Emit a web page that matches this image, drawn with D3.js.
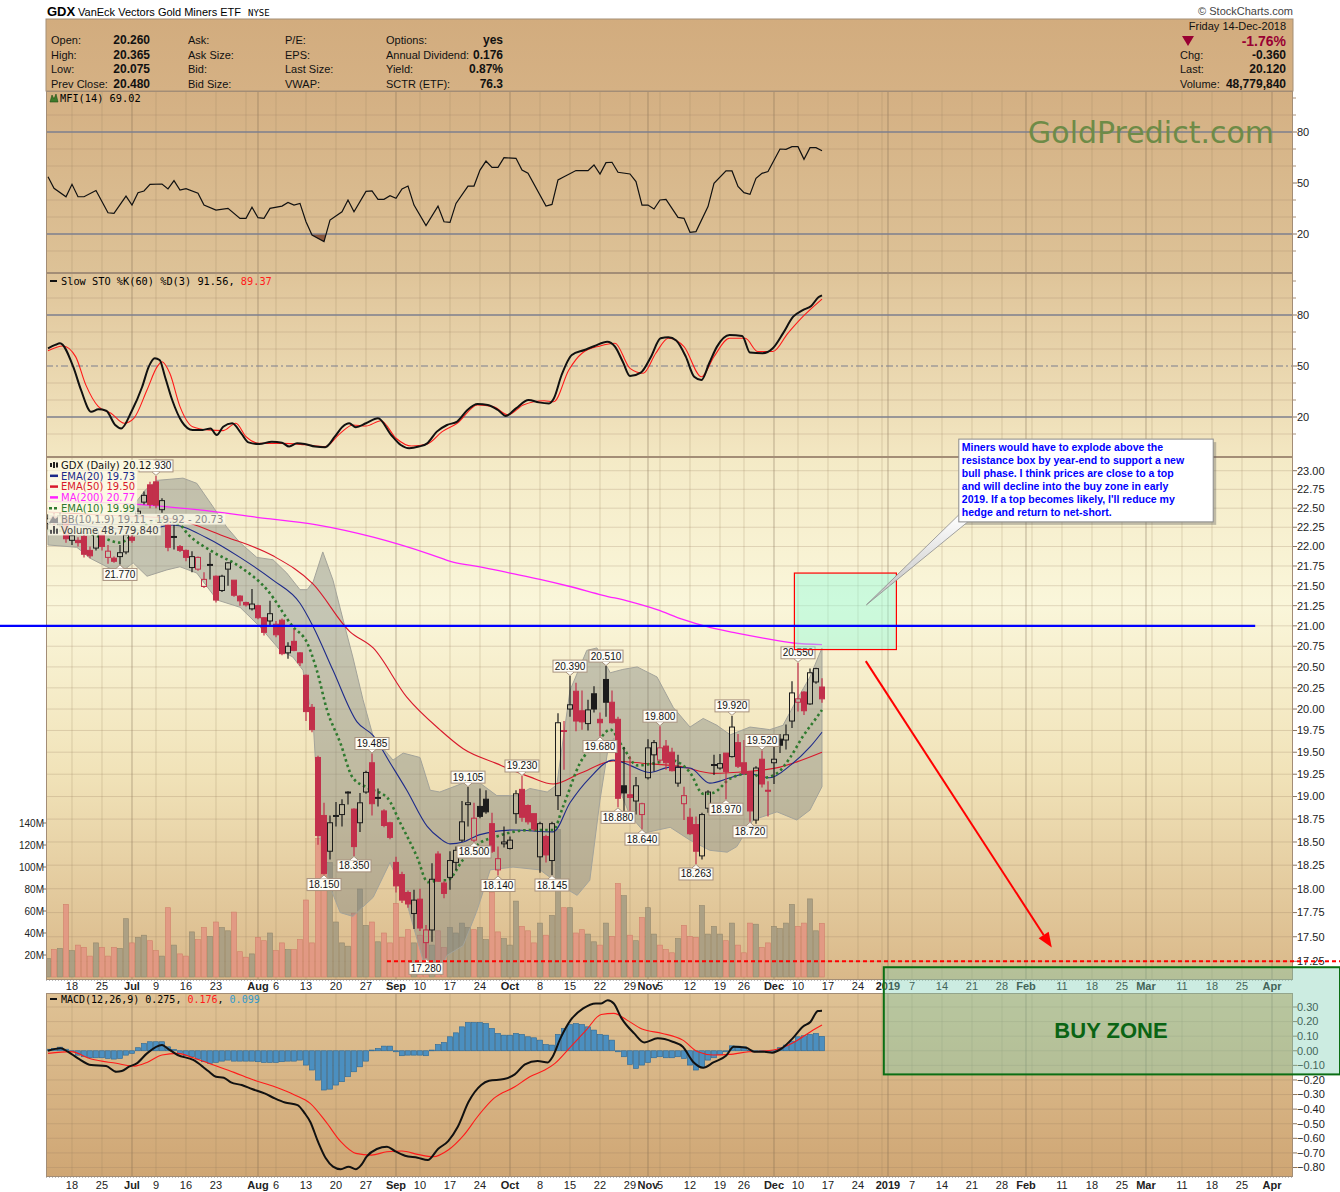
<!DOCTYPE html>
<html>
<head>
<meta charset="utf-8">
<script src="https://d3js.org/d3.v7.min.js"></script>
<style>
body { margin:0; background:#fff; }
svg { display:block; font-family:"Liberation Sans", Arial, sans-serif; }
</style>
</head>
<body>
<script>
// ---- values: day index 0 = Mon 18-Jun-2018, first bar is index -4 ----
var firstDay = -4;
var opens = [22.30,22.38,22.28,22.38,22.08,22.08,22.13,21.95,21.98,22.15,21.86,21.85,21.87,21.93,
  22.12,22.42,22.58,22.81,22.85,22.48,22.28,22.12,22.00,21.95,
  21.73,21.71,21.49,21.76,21.62,21.44,21.71,21.57,21.37,21.29,
  21.21,21.25,21.10,21.06,21.02,21.07,20.67,20.81,20.67,20.40,
  20.02,19.44,18.79,18.40,18.78,18.80,19.04,18.86,18.71,19.05,
  19.38,18.98,18.84,18.71,18.28,18.15,17.96,17.74,17.89,17.44,
  17.57,18.37,18.06,18.12,18.28,18.52,18.91,18.52,18.89,18.97,
  18.70,18.20,18.48,18.43,18.81,19.08,18.90,18.81,18.34,18.56,
  18.30,19.01,19.75,20.00,20.21,19.98,19.83,20.18,19.88,20.35,
  20.08,19.88,19.12,19.02,18.95,18.80,19.21,19.47,19.41,19.57,
  19.50,19.15,18.92,18.77,18.69,18.35,18.87,19.35,19.32,19.49,
  19.45,19.61,19.38,19.28,18.74,19.42,19.07,19.38,19.65,19.64,
  19.86,20.08,20.20,20.06,20.32,20.26];
var highs = [22.42,22.45,22.45,22.40,22.20,22.12,22.17,22.00,22.25,22.20,22.02,21.87,22.02,22.20,
  22.15,22.50,22.72,22.85,22.93,22.63,22.35,22.28,22.02,21.96,
  21.94,21.87,21.67,21.92,21.63,21.64,21.80,21.57,21.38,21.30,
  21.46,21.26,21.11,21.31,21.06,21.09,20.80,20.96,20.68,20.41,
  20.06,19.46,18.93,18.79,18.94,18.97,19.06,18.87,19.04,19.29,
  19.485,19.09,18.86,18.72,18.34,18.18,17.98,17.99,18.00,17.62,
  18.27,18.40,18.08,18.40,18.45,18.95,19.105,18.93,19.09,19.07,
  18.82,18.45,18.67,18.56,19.07,19.23,18.91,18.81,18.72,18.58,
  18.72,19.95,19.86,20.39,20.31,20.22,20.11,20.27,19.96,20.51,
  20.22,19.91,19.56,19.45,19.22,18.93,19.65,19.64,19.80,19.64,
  19.55,19.47,19.11,18.87,18.78,18.82,19.07,19.47,19.48,19.49,
  19.92,19.71,19.64,19.28,19.34,19.52,19.17,19.58,19.71,19.82,
  20.33,20.55,20.21,20.48,20.49,20.365];
var lows = [22.22,22.28,22.25,22.05,22.02,22.00,21.86,21.85,21.95,21.95,21.78,21.79,21.77,21.90,
  22.05,22.35,22.55,22.50,22.50,22.44,21.94,21.96,21.93,21.81,
  21.67,21.69,21.47,21.58,21.29,21.42,21.50,21.36,21.25,21.24,
  21.19,21.08,20.88,21.00,20.86,20.64,20.60,20.69,20.51,19.86,
  19.73,18.47,18.15,18.31,18.67,18.67,18.91,18.35,18.61,19.03,
  18.79,18.89,18.66,18.53,17.96,17.85,17.80,17.58,17.56,17.28,
  17.45,18.07,17.90,17.99,18.20,18.50,18.67,18.50,18.76,18.81,
  18.38,18.14,18.44,18.42,18.70,18.72,18.69,18.62,18.17,18.28,
  18.145,18.85,19.30,19.91,19.74,19.76,19.75,19.96,19.68,19.91,
  19.83,18.88,18.82,18.80,18.80,18.64,19.19,19.28,19.38,19.30,
  19.28,19.11,18.74,18.58,18.263,18.31,18.82,19.24,19.30,18.97,
  19.44,19.32,19.24,18.72,18.70,19.10,18.78,19.14,19.49,19.53,
  19.78,19.97,19.93,20.05,20.30,20.075];
var closes = [22.36,22.33,22.40,22.10,22.14,22.05,21.90,21.88,22.19,22.00,21.94,21.81,21.92,22.15,
  22.08,22.46,22.67,22.55,22.54,22.60,21.99,22.13,21.95,21.86,
  21.87,21.86,21.58,21.77,21.32,21.62,21.79,21.38,21.31,21.26,
  21.27,21.10,20.92,21.15,20.89,20.66,20.75,20.70,20.55,19.97,
  19.76,18.57,18.16,18.71,18.79,18.91,19.05,18.45,18.93,19.27,
  18.92,18.99,18.68,18.55,18.03,17.88,17.84,17.88,17.59,17.57,
  18.10,18.08,17.95,18.30,18.41,18.72,18.93,18.76,18.78,18.83,
  18.40,18.32,18.50,18.52,19.03,18.77,18.72,18.64,18.70,18.36,
  18.70,19.84,19.74,20.05,19.86,19.85,19.99,20.00,19.84,20.08,
  19.84,18.98,19.04,18.99,19.12,18.92,19.55,19.61,19.55,19.38,
  19.29,19.33,19.01,18.59,18.40,18.80,19.05,19.36,19.37,19.28,
  19.79,19.34,19.26,18.84,19.32,19.14,19.06,19.42,19.58,19.70,
  20.19,20.12,19.98,20.43,20.48,20.12];
var volumes = [17,25,26,66,24,29,27,19,31,27,19,27,26,53,
  31,36,38,33,24,19,63,29,21,19,
  41,34,45,37,50,45,42,59,23,18,
  21,36,33,40,24,31,25,25,34,70,
  31,126,93,104,50,31,28,58,80,47,
  50,32,40,31,67,36,43,31,38,31,
  29,42,27,45,40,49,45,43,45,34,
  77,41,35,29,69,46,42,31,49,38,
  56,134,63,63,40,43,39,32,29,49,
  37,85,74,38,33,54,63,39,29,25,
  22,35,47,37,36,65,39,46,39,33,
  49,29,22,49,48,27,31,46,44,49,
  66,46,49,71,42,48.78];
var macdHist = [0.011,0.016,0.025,0.011,-0.007,-0.030,-0.041,-0.048,-0.048,-0.048,-0.053,-0.057,-0.053,-0.030,
  -0.018,0.021,0.050,0.062,0.062,0.062,0.027,0.009,-0.018,-0.034,
  -0.041,-0.057,-0.075,-0.087,-0.080,-0.071,-0.064,-0.071,-0.071,-0.071,
  -0.071,-0.075,-0.080,-0.080,-0.080,-0.075,-0.071,-0.071,-0.064,-0.098,
  -0.132,-0.201,-0.269,-0.263,-0.235,-0.212,-0.178,-0.144,-0.110,-0.071,
  0.005,0.016,0.032,0.032,-0.007,-0.034,-0.030,-0.030,-0.030,-0.034,
  0.005,0.043,0.057,0.096,0.123,0.164,0.194,0.194,0.194,0.187,
  0.153,0.119,0.107,0.107,0.119,0.112,0.096,0.089,0.073,0.043,
  0.039,0.112,0.153,0.180,0.187,0.180,0.164,0.142,0.112,0.107,
  0.073,-0.007,-0.041,-0.094,-0.121,-0.098,-0.080,-0.048,-0.041,-0.048,
  -0.048,-0.041,-0.053,-0.098,-0.132,-0.116,-0.064,-0.048,-0.025,-0.007,
  0.034,0.032,0.027,0.005,-0.007,-0.007,-0.011,0.002,0.021,0.039,
  0.066,0.096,0.103,0.112,0.119,0.099];

// indicator lines, [day index, value]
var mfi = [[-4,53.7],[-3,46.9],[-1,41.9],[0,49.2],[1,41.9],[2,41.9],[4,45.6],[6,32.5],[7,32.2],[9,42.3],[10,37.0],[11,44.3],[12,45.3],[13,49.2],[15,49.4],[16,46.5],[17,51.4],[18,45.9],[19,46.7],[21,44.0],[22,37.0],[24,34.1],[26,35.1],[28,29.2],[29,29.2],[30,35.7],[31,29.6],[32,29.2],[33,35.1],[35,36.4],[36,38.6],[37,37.0],[38,38.0],[39,27.2],[40,19.4],[42,15.5],[43,28.2],[45,33.1],[46,40.0],[47,33.1],[49,45.1],[50,45.3],[51,40.4],[52,40.4],[53,42.5],[54,41.0],[55,46.5],[56,48.2],[57,37.0],[59,24.9],[61,36.4],[62,27.2],[63,26.8],[64,38.0],[66,48.2],[67,48.2],[68,57.6],[69,62.9],[70,59.2],[71,59.2],[72,64.9],[74,64.5],[75,57.6],[76,55.7],[79,36.4],[80,37.4],[81,51.8],[82,53.7],[84,57.3],[86,57.3],[87,60.6],[88,55.3],[89,62.0],[90,62.2],[91,56.3],[93,55.3],[94,50.8],[95,37.0],[96,37.0],[97,34.7],[98,40.0],[99,40.4],[101,29.8],[102,29.2],[103,21.0],[104,21.4],[106,36.1],[107,49.8],[109,57.1],[110,57.1],[111,48.0],[112,44.3],[113,43.3],[114,52.7],[115,55.7],[116,56.7],[118,70.0],[119,69.8],[120,71.4],[121,71.4],[122,63.9],[123,70.8],[124,70.8],[125,69.02]];
var stoK = [[-4,60.4],[-2.8,62.4],[-2,63.4],[0.2,49.6],[1.5,35.9],[3.2,23.1],[4.4,24.5],[5.7,23.7],[7.2,15.3],[8.2,13.3],[9.9,23.1],[11.7,37.8],[12.8,49.6],[13.8,54.5],[14.6,53.5],[15.5,43.7],[16.7,30.0],[18.3,17.3],[20.1,12.4],[21.8,12.4],[23.1,13.3],[24.1,9.4],[25.2,14.3],[26.7,16.3],[28.2,10.4],[29.4,5.1],[31.2,4.1],[33.3,5.5],[35,4.9],[36.2,2.6],[37.5,4.5],[38.8,4.1],[40.5,2.6],[42.2,2.2],[43.8,8.4],[45.1,14.3],[46.2,16.3],[47.3,14.0],[49,16.3],[51,19.2],[53.2,9.4],[54.8,3.5],[56.2,1.6],[57.8,2.6],[59.2,4.5],[60.8,11.4],[62.5,15.3],[64.2,17.3],[65.9,24.1],[67.6,27.6],[69.3,27.1],[71,24.1],[72.3,20.6],[74,25.1],[76.1,30.0],[77.8,28.6],[79.5,28.0],[80.3,30.9],[81.6,44.7],[83.3,56.5],[85.4,59.4],[87.1,61.8],[89.2,64.3],[90.5,61.4],[91.8,52.5],[93,44.1],[94.8,46.1],[96.5,55.5],[98.1,66.3],[99.4,66.9],[100.7,65.0],[102.3,55.5],[103.7,43.7],[104.9,41.8],[106.2,51.6],[107.5,61.4],[109.6,68.2],[111.7,67.7],[113,57.9],[115.1,57.5],[116.8,60.4],[118.5,69.2],[120.2,79.0],[121.8,82.9],[123.2,85.3],[124.4,90.4],[125,91.56]];
var stoD = [[-4,59.0],[-1.5,61.8],[0.6,55.5],[2.3,38.9],[4.4,26.1],[6.5,22.2],[8.7,16.3],[10.3,19.2],[12.5,35.9],[14.2,49.6],[15,52.5],[16.3,45.7],[18,26.1],[20.1,14.3],[22.7,12.4],[25.2,12.0],[27.3,16.3],[29,8.4],[31.2,4.5],[35,4.5],[38.8,3.7],[42.2,2.6],[44.7,10.4],[46.8,15.3],[49,14.7],[51.5,17.8],[54,7.5],[56.6,2.9],[59.2,4.1],[61.7,11.4],[64.2,16.3],[67.6,27.1],[70.2,26.1],[72.7,21.2],[75.2,27.1],[78.7,29.6],[80.3,29.0],[82.8,47.6],[85,57.5],[88,61.8],[90.5,63.4],[93,48.6],[95.2,45.7],[97.3,57.5],[99.4,66.3],[102,61.4],[104.9,43.7],[107,55.5],[109.6,66.3],[112.2,66.3],[114.3,58.5],[116.8,58.5],[119.3,69.2],[121.8,79.0],[125,89.37]];
var ema10 = [[-4,22.21],[1.3,22.19],[5.2,22.11],[8,22.05],[11.3,22.24],[14.7,22.34],[18,22.28],[19.2,22.17],[23.5,21.93],[28,21.74],[32.5,21.45],[36.8,20.99],[39.2,20.79],[40.8,20.46],[42.5,19.99],[44.7,19.61],[46.8,19.21],[49.2,19.10],[52.5,18.99],[54.7,18.71],[57.5,18.34],[59.3,18.07],[61.3,18.09],[62.5,18.09],[65.2,18.31],[68,18.49],[70.8,18.56],[73.5,18.61],[76.3,18.63],[80.2,18.63],[81.8,18.88],[84.7,19.38],[87.5,19.61],[89.7,19.76],[91.8,19.56],[94.2,19.35],[97.5,19.38],[99.7,19.41],[103,19.27],[105.2,19.03],[106.8,19.04],[109.7,19.20],[113,19.26],[115.2,19.21],[117.5,19.26],[119.7,19.44],[121.8,19.68],[124.2,19.91],[125,19.99]];
var ema20 = [[-4,22.32],[4.7,22.25],[11.8,22.21],[16.8,22.28],[22.5,22.11],[28,21.86],[33.5,21.57],[38,21.28],[40.2,20.99],[43.5,20.46],[47.5,19.85],[50.2,19.69],[53,19.38],[55.8,19.07],[59.2,18.67],[61.3,18.54],[63,18.48],[65.2,18.50],[68,18.58],[73.5,18.63],[80.2,18.61],[83,18.93],[86.3,19.21],[90.2,19.41],[93,19.35],[96.3,19.27],[99.7,19.33],[103,19.32],[106.3,19.15],[109.7,19.21],[112.5,19.26],[116.3,19.21],[119.7,19.35],[123,19.56],[125,19.73]];
var ema50 = [[-4,22.45],[4.7,22.41],[15.8,22.37],[25.8,22.12],[33.5,21.88],[40.2,21.52],[46.3,20.93],[50.2,20.73],[55.8,20.14],[61.3,19.76],[65.2,19.54],[70.8,19.37],[76.3,19.22],[80.2,19.14],[84.7,19.26],[90.2,19.40],[95.8,19.37],[101.3,19.34],[106.8,19.26],[112.5,19.28],[118,19.33],[120.8,19.39],[125,19.50]];
var ma200 = [[-4,22.59],[8.8,22.56],[20.8,22.48],[30.8,22.38],[40.8,22.28],[50.2,22.12],[59.7,21.90],[63.5,21.80],[68,21.74],[73,21.66],[78,21.58],[83,21.49],[88.5,21.38],[93,21.30],[97.5,21.20],[101.8,21.08],[106.3,20.98],[110.8,20.91],[115.2,20.85],[120.2,20.79],[125,20.77]];
var bbUpper = [[-4,22.41],[1.3,22.34],[6.3,22.32],[9.7,22.48],[12.2,22.74],[14.2,22.87],[18.5,22.90],[20.8,22.83],[23.5,22.52],[25.8,22.25],[28,22.05],[30.8,21.86],[33.5,21.83],[35.8,21.66],[38,21.45],[39.2,21.45],[40.2,21.55],[41.8,21.93],[43.5,21.57],[45.2,21.07],[46.8,20.62],[48.5,20.11],[50.2,19.68],[53.5,19.41],[55.2,19.49],[58,19.44],[59.7,19.07],[61.3,19.05],[65.2,19.15],[68,19.15],[70.8,19.01],[74.2,19.01],[76.3,19.09],[79.2,19.05],[80.8,19.13],[83,20.22],[85.8,20.70],[87.5,20.73],[89.7,20.43],[91.8,20.47],[94.2,20.50],[97.5,20.38],[100.2,20.02],[103,19.79],[105.2,19.89],[107.5,19.81],[109.7,19.70],[113,19.79],[116.3,19.76],[118.5,19.81],[120.8,20.11],[123,20.38],[125,20.73]];
var bbLower = [[-4,22.02],[0.8,21.99],[3,21.85],[5.8,21.74],[8,21.66],[10.2,21.79],[12.5,21.62],[15.8,21.70],[18,21.74],[20.8,21.66],[24.2,21.32],[28,21.23],[31.3,20.99],[34.7,20.70],[36.8,20.62],[38.5,20.46],[40.2,19.85],[41.3,18.56],[43,18.02],[44.7,17.75],[46.8,17.71],[50.2,17.91],[53,18.28],[55.8,17.85],[58.5,17.26],[61.3,17.16],[62.5,17.31],[65.2,17.41],[67.5,17.77],[69.7,18.20],[73.5,18.23],[78,18.20],[81.8,18.02],[84.2,17.93],[86.3,18.09],[88,18.96],[89.3,19.52],[90.3,19.66],[91.3,19.07],[93,18.79],[95.5,18.60],[99.7,18.66],[103,18.52],[106.3,18.41],[109.2,18.39],[110.8,18.45],[113.5,18.74],[117.5,18.83],[120.8,18.74],[123,18.85],[125,19.11]];
var macdLine = [[-4,0.0],[-1.9,0.017],[-0.7,-0.006],[1,-0.052],[3.2,-0.098],[5.7,-0.105],[7.4,-0.144],[8.3,-0.139],[9.5,-0.109],[10.8,-0.086],[12.5,-0.018],[15,0.039],[15.9,0.017],[17.6,-0.029],[20.2,-0.063],[21.8,-0.109],[22.7,-0.139],[24,-0.178],[25.3,-0.185],[26.5,-0.217],[28.3,-0.235],[30,-0.262],[32.1,-0.292],[33.8,-0.326],[35.5,-0.354],[37.6,-0.372],[38.8,-0.429],[39.7,-0.486],[41,-0.623],[42.3,-0.737],[43.5,-0.794],[44.8,-0.812],[46.1,-0.794],[47.3,-0.812],[48.2,-0.783],[49.1,-0.726],[50.8,-0.673],[52.5,-0.657],[53.8,-0.687],[55.5,-0.719],[57.6,-0.733],[59.3,-0.749],[61,-0.673],[62.7,-0.619],[64.3,-0.521],[66.1,-0.350],[68.2,-0.235],[69.5,-0.206],[72,-0.194],[73.8,-0.162],[75.5,-0.093],[77.6,-0.070],[79.3,-0.080],[80.1,-0.041],[81.4,0.085],[83.1,0.210],[85.2,0.290],[87.3,0.324],[88.2,0.324],[89.3,0.347],[90.3,0.324],[91.6,0.222],[93.7,0.119],[95.4,0.057],[97.6,0.085],[100.1,0.062],[101.8,0.027],[103.5,-0.075],[105.2,-0.116],[106.9,-0.080],[109,-0.034],[110.3,0.027],[112.4,0.020],[113.7,-0.007],[115.4,-0.007],[116.7,-0.013],[118.3,0.016],[120.1,0.085],[121.8,0.165],[123.1,0.199],[124.3,0.272],[125,0.275]];
var macdSignal = [[-4,-0.018],[-0.2,-0.006],[3.2,-0.057],[7.4,-0.086],[10.4,-0.105],[12.5,-0.080],[15,-0.029],[17.6,-0.018],[20.2,-0.048],[23.6,-0.098],[27,-0.148],[30.3,-0.201],[33.8,-0.247],[37.1,-0.303],[39.7,-0.361],[42.3,-0.486],[44.8,-0.623],[47.3,-0.703],[49.9,-0.715],[52.5,-0.692],[55,-0.687],[57.6,-0.710],[60.2,-0.726],[62.7,-0.680],[65.3,-0.578],[67.8,-0.440],[70.3,-0.326],[73.8,-0.247],[76.3,-0.178],[78.8,-0.132],[80.5,-0.086],[83.1,0.027],[85.7,0.142],[88.2,0.249],[90.3,0.256],[92.5,0.210],[95,0.149],[98.4,0.119],[101.8,0.073],[104.3,-0.007],[106.9,-0.029],[109.5,-0.025],[112.8,-0.007],[115.4,-0.002],[118,0.016],[120.5,0.062],[123.1,0.131],[125,0.176]];

// high / low markers shown with value boxes
var peakMarks = [[14,"H"],[8,"L"],[50,"H"],[42,"L"],[47,"L"],[59,"L"],[66,"H"],[67,"L"],[71,"L"],[75,"H"],[80,"L"],[83,"H"],[89,"H"],[88,"L"],[91,"L"],[95,"L"],[98,"H"],[104,"L"],[109,"L"],[110,"H"],[113,"L"],[115,"H"],[121,"H"]];

// date axis: [day index, label, month?]
var dateTicks = [[0,"18"],[5,"25"],[10,"Jul",1],[14,"9"],[19,"16"],[24,"23"],[31,"Aug",1],[34,"6"],[39,"13"],[44,"20"],[49,"27"],[54,"Sep",1],[58,"10"],[63,"17"],[68,"24"],[73,"Oct",1],[78,"8"],[83,"15"],[88,"22"],[93,"29"],[96,"Nov",1],[98,"5"],[103,"12"],[108,"19"],[112,"26"],[117,"Dec",1],[121,"10"],[126,"17"],[131,"24"],[136,"2019",1],[140,"7"],[145,"14"],[150,"21"],[155,"28"],[159,"Feb",1],[165,"11"],[170,"18"],[175,"25"],[179,"Mar",1],[185,"11"],[190,"18"],[195,"25"],[200,"Apr",1]];
var weekLines = [0,5,10,14,19,24,29,34,39,44,49,54,58,63,68,73,78,83,88,93,98,103,108,112,117,121,126,131,135,140,145,150,155,160,165,170,175,180,185,190,195,200];
var monthLines = [10,31,54,73,96,117,136,159,179,200];

var priceTicks = [17.25,17.50,17.75,18.00,18.25,18.50,18.75,19.00,19.25,19.50,19.75,20.00,20.25,20.50,20.75,21.00,21.25,21.50,21.75,22.00,22.25,22.50,22.75,23.00];
var volTicks = [20,40,60,80,100,120,140];
var macdTicks = [0.30,0.20,0.10,0.00,-0.10,-0.20,-0.30,-0.40,-0.50,-0.60,-0.70,-0.80];
var oscTicks = [80,50,20];

// ---- layout ----
var W = 1340, H = 1192, L = 46, R = 1293;
var pMfi = [91, 273], pSto = [273, 457], pPx = [457, 980], pMacd = [993, 1177];
var x = d3.scaleLinear().domain([-4.333, 203.5]).range([L, R]);
var yMfi = d3.scaleLinear().domain([0, 100]).range([268, 98]);
var ySto = d3.scaleLinear().domain([0, 100]).range([451, 281]);
var yP = d3.scaleLog().domain([17.25, 23]).range([961.3, 470.7]);
var yV = d3.scaleLinear().domain([0, 140]).range([977, 823]);
var yM = d3.scaleLinear().domain([-0.8, 0.3]).range([1167.5, 1007]);
var MONO = "'DejaVu Sans Mono', monospace";

var svg = d3.select("body").append("svg").attr("width", W).attr("height", H);
var defs = svg.append("defs");
function grad(id, stops) {
  var g = defs.append("linearGradient").attr("id", id).attr("x1", 0).attr("y1", 0).attr("x2", 0).attr("y2", 1);
  stops.forEach(function(s) { g.append("stop").attr("offset", s[0]).attr("stop-color", s[1]); });
}
grad("gHead", [[0, "#d2ac7e"], [1, "#d5b184"]]);
grad("gMfi", [[0, "#d4b083"], [1, "#ddc297"]]);
grad("gSto", [[0, "#dfc499"], [1, "#f3e7c2"]]);
grad("gPx", [[0, "#f4eac6"], [0.28, "#faf6da"], [0.6, "#f1e3b9"], [1, "#d9b889"]]);
grad("gMacd", [[0, "#dfc295"], [1, "#cfa674"]]);
grad("gPtr", [[0, "#ffffff"], [1, "#bdbdbd"]]);
function clip(id, p) {
  defs.append("clipPath").attr("id", id).append("rect").attr("x", L).attr("y", p[0]).attr("width", R - L).attr("height", p[1] - p[0]);
}
clip("cMfi", pMfi); clip("cSto", pSto); clip("cPx", pPx); clip("cMacd", pMacd);
defs.append("clipPath").attr("id", "cLow").append("rect").attr("x", L).attr("y", yMfi(20)).attr("width", R - L).attr("height", pMfi[1] - yMfi(20));

// ---- title + header box ----
svg.append("text").attr("x", 47).attr("y", 16).attr("font-size", 13).attr("font-weight", "bold").text("GDX");
svg.append("text").attr("x", 78).attr("y", 16).attr("font-size", 11).text("VanEck Vectors Gold Miners ETF");
svg.append("text").attr("x", 248).attr("y", 16).attr("font-size", 9).style("font-family", MONO).text("NYSE");
svg.append("text").attr("x", R).attr("y", 15).attr("font-size", 11).attr("fill", "#444").attr("text-anchor", "end").text("\u00a9 StockCharts.com");
svg.append("rect").attr("x", L).attr("y", 19).attr("width", R - L).attr("height", 72).attr("fill", "url(#gHead)").attr("stroke", "#a58f77");

var head = svg.append("g").attr("font-size", 11).attr("fill", "#111");
var rowsY = [44, 59, 73, 88];
function hcol(lx, labels, vx, vals) {
  labels.forEach(function(t, i) { head.append("text").attr("x", lx).attr("y", rowsY[i]).text(t); });
  if (vals) vals.forEach(function(t, i) {
    head.append("text").attr("x", vx).attr("y", rowsY[i]).attr("text-anchor", "end").attr("font-weight", "bold").attr("font-size", 12).text(t);
  });
}
hcol(51, ["Open:", "High:", "Low:", "Prev Close:"], 150, ["20.260", "20.365", "20.075", "20.480"]);
hcol(188, ["Ask:", "Ask Size:", "Bid:", "Bid Size:"]);
hcol(285, ["P/E:", "EPS:", "Last Size:", "VWAP:"]);
hcol(386, ["Options:", "Annual Dividend:", "Yield:", "SCTR (ETF):"], 503, ["yes", "0.176", "0.87%", "76.3"]);
head.append("text").attr("x", 1286).attr("y", 30).attr("text-anchor", "end").text("Friday  14-Dec-2018");
head.append("path").attr("d", "M1182,36 L1194,36 L1188,46 Z").attr("fill", "#990033");
head.append("text").attr("x", 1286).attr("y", 46).attr("text-anchor", "end").attr("font-size", 14).attr("font-weight", "bold").attr("fill", "#990033").text("-1.76%");
[["Chg:", "-0.360", 59], ["Last:", "20.120", 73], ["Volume:", "48,779,840", 88]].forEach(function(r) {
  head.append("text").attr("x", 1180).attr("y", r[2]).text(r[0]);
  head.append("text").attr("x", 1286).attr("y", r[2]).attr("text-anchor", "end").attr("font-weight", "bold").attr("font-size", 12).text(r[1]);
});

// ---- panel backgrounds and grids ----
function panelBg(p, fill) {
  svg.append("rect").attr("x", L).attr("y", p[0]).attr("width", R - L).attr("height", p[1] - p[0]).attr("fill", fill);
}
panelBg(pMfi, "url(#gMfi)"); panelBg(pSto, "url(#gSto)"); panelBg(pPx, "url(#gPx)"); panelBg(pMacd, "url(#gMacd)");

function vGrid(p) {
  var g = svg.append("g");
  weekLines.forEach(function(d) {
    var isMonth = monthLines.indexOf(d) >= 0;
    g.append("line").attr("x1", x(d)).attr("x2", x(d)).attr("y1", p[0]).attr("y2", p[1])
      .attr("stroke", isMonth ? "rgba(120,100,75,0.45)" : "rgba(150,125,95,0.28)");
  });
  monthLines.forEach(function(d) {
    if (weekLines.indexOf(d) < 0) g.append("line").attr("x1", x(d)).attr("x2", x(d)).attr("y1", p[0]).attr("y2", p[1]).attr("stroke", "rgba(120,100,75,0.45)");
  });
}
function hGrid(vals, y) {
  var g = svg.append("g");
  vals.forEach(function(v) {
    g.append("line").attr("x1", L).attr("x2", R).attr("y1", y(v)).attr("y2", y(v)).attr("stroke", "rgba(150,125,95,0.25)");
  });
}
[pMfi, pSto, pPx, pMacd].forEach(vGrid);
hGrid([10, 30, 40, 60, 70, 90], yMfi);
hGrid([10, 30, 40, 60, 70, 90], ySto);
hGrid(priceTicks, yP);
hGrid(macdTicks, yM);

// right axis labels and ticks
var ax = svg.append("g").attr("font-size", 11).attr("fill", "#222");
function rAxis(vals, y, fmt, minor) {
  vals.forEach(function(v) {
    ax.append("line").attr("x1", R).attr("x2", R + 4).attr("y1", y(v)).attr("y2", y(v)).attr("stroke", "#8a7560");
    ax.append("text").attr("x", R + 4).attr("y", y(v)).attr("dy", "0.35em").text(fmt(v));
  });
  (minor || []).forEach(function(v) {
    ax.append("line").attr("x1", R).attr("x2", R + 3).attr("y1", y(v)).attr("y2", y(v)).attr("stroke", "#a89078");
  });
}
rAxis(oscTicks, yMfi, String, [10, 30, 40, 60, 70, 90, 100]);
rAxis(oscTicks, ySto, String, [10, 30, 40, 60, 70, 90, 100]);
rAxis(priceTicks, yP, d3.format(".2f"));
rAxis(macdTicks, yM, d3.format(".2f"));
volTicks.forEach(function(v) {
  ax.append("line").attr("x1", L - 3).attr("x2", L).attr("y1", yV(v)).attr("y2", yV(v)).attr("stroke", "#8a7560");
  ax.append("text").attr("x", L - 2).attr("y", yV(v)).attr("dy", "0.35em").attr("text-anchor", "end").attr("font-size", 10).text(v + "M");
});

// date strips
function dateStrip(y0, y1, ty) {
  svg.append("rect").attr("x", L).attr("y", y0).attr("width", R - L).attr("height", y1 - y0).attr("fill", "#fff");
  svg.append("line").attr("x1", L).attr("x2", R).attr("y1", y0 + 0.5).attr("y2", y0 + 0.5).attr("stroke", "#bbb").attr("stroke-dasharray", "1,2");
  var g = svg.append("g").attr("font-size", 11).attr("fill", "#222").attr("text-anchor", "middle");
  dateTicks.forEach(function(t) {
    g.append("text").attr("x", x(t[0])).attr("y", ty).attr("font-weight", t[2] ? "bold" : "normal").text(t[1]);
  });
}
dateStrip(pPx[1], pMacd[0], 990);
dateStrip(pMacd[1], 1192, 1189);

// ---- MFI panel ----
var gM = svg.append("g").attr("clip-path", "url(#cMfi)");
var mfiX = function(d) { return x(d[0]); };
gM.append("path").attr("clip-path", "url(#cLow)")
  .attr("d", d3.area().x(mfiX).y0(yMfi(20)).y1(function(d) { return yMfi(d[1]); })(mfi))
  .attr("fill", "#8e5a3e");
[80, 20].forEach(function(v) {
  gM.append("line").attr("x1", L).attr("x2", R).attr("y1", yMfi(v)).attr("y2", yMfi(v)).attr("stroke", "#7c7f8e").attr("stroke-width", 1.3);
});
svg.append("text").attr("x", 1274).attr("y", 143).attr("text-anchor", "end").style("font-family", "'DejaVu Sans', sans-serif").attr("font-size", 30).attr("fill", "#6e8b47").text("GoldPredict.com");
gM.append("path").attr("d", d3.line().x(mfiX).y(function(d) { return yMfi(d[1]); })(mfi)).attr("fill", "none").attr("stroke", "#111").attr("stroke-width", 1.2);
svg.append("path").attr("d", "M50,102 L52,95 L54,99 L56,94 L58,102 Z").attr("fill", "#3d7a2a").attr("stroke", "#1e4d14").attr("stroke-width", 0.6);
svg.append("text").attr("x", 60).attr("y", 102).attr("font-size", 10.3).style("font-family", MONO).text("MFI(14) 69.02");

// ---- Slow STO panel ----
var gS = svg.append("g").attr("clip-path", "url(#cSto)");
[80, 20].forEach(function(v) {
  gS.append("line").attr("x1", L).attr("x2", R).attr("y1", ySto(v)).attr("y2", ySto(v)).attr("stroke", "#7c7f8e").attr("stroke-width", 1.3);
});
gS.append("line").attr("x1", L).attr("x2", R).attr("y1", ySto(50)).attr("y2", ySto(50)).attr("stroke", "#7c7f8e").attr("stroke-width", 1.2).attr("stroke-dasharray", "7,3,2,3");
var oscLine = d3.line().x(function(d) { return x(d[0]); }).y(function(d) { return ySto(d[1]); }).curve(d3.curveMonotoneX);
gS.append("path").attr("d", oscLine(stoD)).attr("fill", "none").attr("stroke", "#ff1a1a").attr("stroke-width", 1.1);
gS.append("path").attr("d", oscLine(stoK)).attr("fill", "none").attr("stroke", "#111").attr("stroke-width", 2);
svg.append("line").attr("x1", 50).attr("x2", 57).attr("y1", 281).attr("y2", 281).attr("stroke", "#111").attr("stroke-width", 2);
var stoT = svg.append("text").attr("x", 61).attr("y", 285).attr("font-size", 10.3).style("font-family", MONO);
stoT.append("tspan").text("Slow STO %K(60) %D(3) 91.56, ");
stoT.append("tspan").attr("fill", "#ff1a1a").text("89.37");

// ---- price panel ----
var gP = svg.append("g").attr("clip-path", "url(#cPx)");
var bars = closes.map(function(c, i) {
  return { d: firstDay + i, o: opens[i], h: highs[i], l: lows[i], c: c, v: volumes[i], prev: i ? closes[i - 1] : opens[i] };
});
// volume
gP.append("g").selectAll("rect").data(bars).enter().append("rect")
  .attr("x", function(b) { return x(b.d) - 2.5; }).attr("width", 5)
  .attr("y", function(b) { return yV(b.v); }).attr("height", function(b) { return yV(0) - yV(b.v); })
  .attr("fill", function(b) { return b.c < b.prev ? "#e39683" : "#a79d83"; })
  .attr("stroke", function(b) { return b.c < b.prev ? "#cf7a66" : "#8b8269"; }).attr("stroke-width", 0.6)
  .attr("opacity", 0.9);
// Bollinger band
var pl = function(d) { return [x(d[0]), yP(d[1])]; };
gP.append("path").attr("d", d3.line()(bbUpper.map(pl).concat(bbLower.slice().reverse().map(pl))) + "Z")
  .attr("fill", "rgba(125,130,128,0.42)").attr("stroke", "#a3a39a").attr("stroke-width", 1);
// moving averages
var pxLine = d3.line().x(function(d) { return x(d[0]); }).y(function(d) { return yP(d[1]); }).curve(d3.curveMonotoneX);
gP.append("path").attr("d", pxLine(ma200)).attr("fill", "none").attr("stroke", "#ff22ff").attr("stroke-width", 1.3);
gP.append("path").attr("d", pxLine(ema50)).attr("fill", "none").attr("stroke", "#d8182c").attr("stroke-width", 1.1);
gP.append("path").attr("d", pxLine(ema20)).attr("fill", "none").attr("stroke", "#1d2a8a").attr("stroke-width", 1.1);
gP.append("path").attr("d", pxLine(ema10)).attr("fill", "none").attr("stroke", "#2f7a2f").attr("stroke-width", 2.6).attr("stroke-dasharray", "2.5,3");
// candles
var cg = gP.append("g");
bars.forEach(function(b) {
  var col = b.c < b.prev ? "#c2304b" : "#1c1c1c";
  var top = yP(Math.max(b.o, b.c)), bot = yP(Math.min(b.o, b.c));
  if (bot - top < 1) { bot = top + 1; }
  var cx = x(b.d);
  cg.append("line").attr("x1", cx).attr("x2", cx).attr("y1", yP(b.h)).attr("y2", top).attr("stroke", col).attr("stroke-width", 1.2);
  cg.append("line").attr("x1", cx).attr("x2", cx).attr("y1", bot).attr("y2", yP(b.l)).attr("stroke", col).attr("stroke-width", 1.2);
  cg.append("rect").attr("x", cx - 2.5).attr("y", top).attr("width", 5).attr("height", bot - top)
    .attr("fill", b.c >= b.o ? "none" : col).attr("stroke", col).attr("stroke-width", 1);
});
// value markers
var mk = svg.append("g").attr("font-size", 10);
peakMarks.forEach(function(p) {
  var b = bars[p[0] - firstDay], hi = p[1] === "H";
  var v = hi ? b.h : b.l, cx = x(b.d), cy = yP(v), w = 34, h = 12;
  var by = hi ? cy - 4 - h : cy + 4;
  mk.append("rect").attr("x", cx - w / 2).attr("y", by).attr("width", w).attr("height", h).attr("fill", "#fdfcf6").attr("stroke", "#a8927e");
  var py = hi ? by + h : by;
  mk.append("path").attr("d", "M" + (cx - 4) + "," + py + " L" + cx + "," + (hi ? cy - 0.5 : cy + 0.5) + " L" + (cx + 4) + "," + py)
    .attr("fill", "#fdfcf6").attr("stroke", "#a8927e");
  mk.append("text").attr("x", cx).attr("y", by + h - 2.5).attr("text-anchor", "middle").attr("fill", "#111").text(v.toFixed(3));
});
// legend (drawn over the first marker, as on the original)
var leg = svg.append("g").attr("font-size", 10).style("font-family", "'DejaVu Sans', sans-serif");
var legRows = [
  ["GDX (Daily) 20.12", "#111", "bars"], ["EMA(20) 19.73", "#1d2a8a", "line"], ["EMA(50) 19.50", "#d8182c", "line"],
  ["MA(200) 20.77", "#ff22ff", "line"], ["EMA(10) 19.99", "#2f7a2f", "dash"],
  ["BB(10,1.9) 19.11 - 19.92 - 20.73", "#8a8a8a", "bb"], ["Volume 48,779,840", "#444", "vol"]];
legRows.forEach(function(r, i) {
  var y = 465 + i * 10.8;
  var t = leg.append("text").attr("x", 61).attr("y", y + 3.7).attr("fill", r[1]).text(r[0]);
  var wdt = t.node().getComputedTextLength();
  leg.insert("rect", "text").attr("x", 48).attr("y", y - 5.2).attr("width", wdt + 15).attr("height", 10.8)
    .attr("fill", i === 0 ? "#fbf7e0" : "rgba(253,250,232,0.85)");
  if (r[2] === "line") leg.append("line").attr("x1", 50).attr("x2", 58).attr("y1", y).attr("y2", y).attr("stroke", r[1]).attr("stroke-width", 2.5);
  if (r[2] === "dash") leg.append("line").attr("x1", 49).attr("x2", 59).attr("y1", y).attr("y2", y).attr("stroke", r[1]).attr("stroke-width", 2.5).attr("stroke-dasharray", "3,2");
  if (r[2] === "bb") leg.append("path").attr("d", "M49," + (y + 4) + " L53," + (y - 3) + " L55," + (y) + " L58," + (y - 2) + " L58," + (y + 4) + " Z").attr("fill", "#9a9a9a");
  if (r[2] === "vol") [[50, 3], [53, 6], [56, 4]].forEach(function(q) { leg.append("rect").attr("x", q[0]).attr("y", y + 4 - q[1] * 1.3).attr("width", 2).attr("height", q[1] * 1.3).attr("fill", "#555"); });
  if (r[2] === "bars") [[51, 4], [54, 6], [57, 5]].forEach(function(q) { leg.append("rect").attr("x", q[0] - 1).attr("y", y - q[1] / 2).attr("width", 2).attr("height", q[1]).attr("fill", "#222"); });
});

// ---- MACD panel ----
var gC = svg.append("g").attr("clip-path", "url(#cMacd)");
gC.append("g").selectAll("rect").data(macdHist).enter().append("rect")
  .attr("x", function(v, i) { return x(firstDay + i) - 2.6; }).attr("width", 5.2)
  .attr("y", function(v) { return Math.min(yM(v), yM(0)); })
  .attr("height", function(v) { return Math.max(0.8, Math.abs(yM(v) - yM(0))); })
  .attr("fill", "#4b8fc0").attr("stroke", "#2d6893").attr("stroke-width", 0.6);
var mLine = d3.line().x(function(d) { return x(d[0]); }).y(function(d) { return yM(d[1]); }).curve(d3.curveMonotoneX);
gC.append("path").attr("d", mLine(macdSignal)).attr("fill", "none").attr("stroke", "#ff1a1a").attr("stroke-width", 1.1);
gC.append("path").attr("d", mLine(macdLine)).attr("fill", "none").attr("stroke", "#111").attr("stroke-width", 2);
svg.append("line").attr("x1", 50).attr("x2", 57).attr("y1", 999).attr("y2", 999).attr("stroke", "#111").attr("stroke-width", 2);
var mT = svg.append("text").attr("x", 61).attr("y", 1003).attr("font-size", 10).style("font-family", MONO);
mT.append("tspan").text("MACD(12,26,9) 0.275, ");
mT.append("tspan").attr("fill", "#ff1a1a").text("0.176");
mT.append("tspan").text(", ");
mT.append("tspan").attr("fill", "#3399cc").text("0.099");

// panel borders
[pMfi, pSto, pPx, pMacd].forEach(function(p) {
  svg.append("rect").attr("x", L + 0.5).attr("y", p[0] + 0.5).attr("width", R - L - 1).attr("height", p[1] - p[0] - 1).attr("fill", "none").attr("stroke", "#a38d76");
});

// ---- drawn annotations ----
var an = svg.append("g");
// resistance box
an.append("rect").attr("x", x(120.4)).attr("y", yP(21.66)).attr("width", x(137.4) - x(120.4)).attr("height", yP(20.71) - yP(21.66))
  .attr("fill", "rgba(140,255,225,0.42)").attr("stroke", "#ff0000").attr("stroke-width", 1.2);
// 21.00 line
an.append("line").attr("x1", 0).attr("x2", x(197.2)).attr("y1", yP(21)).attr("y2", yP(21)).attr("stroke", "#0000ff").attr("stroke-width", 2.4);
// 17.25 support
an.append("line").attr("x1", x(52.5)).attr("x2", W).attr("y1", yP(17.25)).attr("y2", yP(17.25)).attr("stroke", "#ff0000").attr("stroke-width", 2).attr("stroke-dasharray", "4,3");
// red arrow
var ax1 = x(132.3), ay1 = yP(20.57), ax2 = x(163.3), ay2 = yP(17.39);
var ang = Math.atan2(ay2 - ay1, ax2 - ax1), hl = 15, hw = 6;
var bx = ax2 - hl * Math.cos(ang), byy = ay2 - hl * Math.sin(ang);
an.append("line").attr("x1", ax1).attr("y1", ay1).attr("x2", bx).attr("y2", byy).attr("stroke", "#ff0000").attr("stroke-width", 2);
an.append("path").attr("d", "M" + ax2 + "," + ay2 + " L" + (bx + hw * Math.sin(ang)) + "," + (byy - hw * Math.cos(ang)) + " L" + (bx - hw * Math.sin(ang)) + "," + (byy + hw * Math.cos(ang)) + " Z").attr("fill", "#ff0000");
// buy zone
var bzTop = yP(17.19), bzBot = yM(-0.162);
an.append("rect").attr("x", x(135.3)).attr("y", bzTop).attr("width", W - x(135.3)).attr("height", bzBot - bzTop)
  .attr("fill", "rgba(120,205,175,0.38)").attr("stroke", "#0a6e14").attr("stroke-width", 2);
an.append("text").attr("x", 1111).attr("y", 1038).attr("text-anchor", "middle").attr("font-size", 22).attr("font-weight", "bold").attr("fill", "#0a6414").text("BUY ZONE");
// callout
var cx0 = x(147.8), cx1 = x(190.2), cy0 = yP(23.43), cy1 = yP(22.32);
an.append("rect").attr("x", cx0 + 3).attr("y", cy0 + 3).attr("width", cx1 - cx0).attr("height", cy1 - cy0).attr("fill", "rgba(90,90,90,0.35)");
an.append("path").attr("d", "M" + (cx0) + "," + (cy1 - 7) + " L" + x(132.4) + "," + yP(21.26) + " L" + (cx0 + 9) + "," + cy1 + " Z")
  .attr("fill", "url(#gPtr)").attr("stroke", "#8c8c8c").attr("stroke-width", 0.8);
an.append("rect").attr("x", cx0).attr("y", cy0).attr("width", cx1 - cx0).attr("height", cy1 - cy0).attr("fill", "#fff").attr("stroke", "#8c8c8c");
var note = ["Miners would have to explode above the", "resistance box by year-end to support a new", "bull phase. I think prices are close to a top",
  "and will decline into the buy zone in early", "2019. If a top becomes likely, I'll reduce my", "hedge and return to net-short."];
note.forEach(function(t, i) {
  an.append("text").attr("x", cx0 + 3).attr("y", cy0 + 12 + i * 13).attr("font-size", 10.5).attr("font-weight", "bold").attr("fill", "#0000ff").text(t);
});
</script>
</body>
</html>
